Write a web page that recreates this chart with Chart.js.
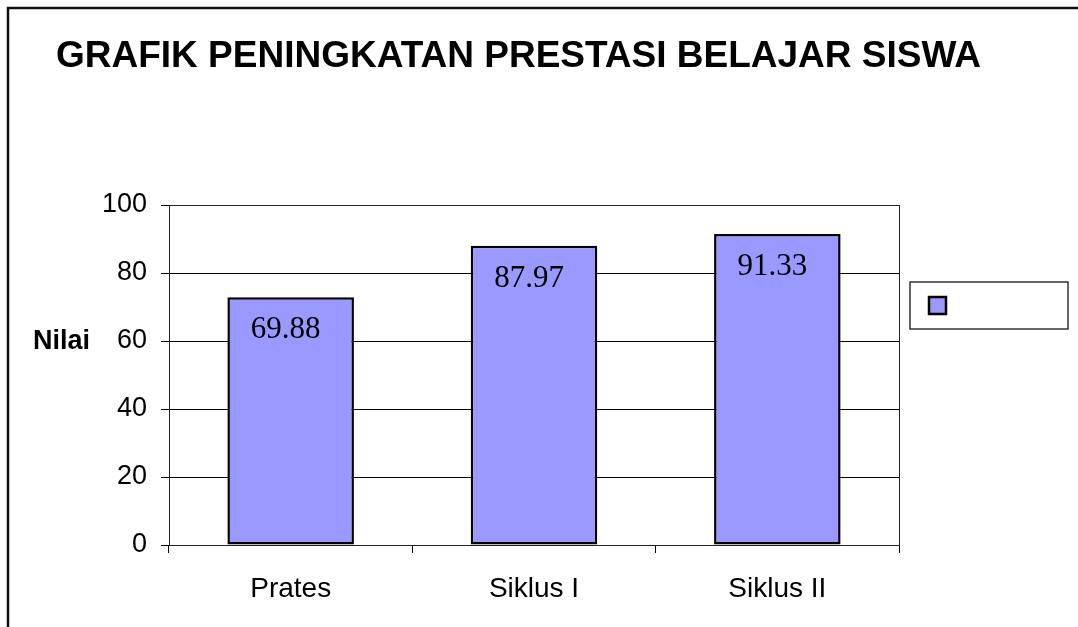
<!DOCTYPE html>
<html>
<head>
<meta charset="utf-8">
<script src="https://cdn.jsdelivr.net/npm/chart.js@4.4.1/dist/chart.umd.min.js"></script>
<style>
  html, body { margin: 0; padding: 0; background: #fff; }
  #wrap { position: relative; width: 1078px; height: 627px; }
</style>
</head>
<body>
<div id="wrap"><canvas id="chart" width="1078" height="627"></canvas></div>
<script>
// Chart data
const categories = ['Prates', 'Siklus I', 'Siklus II'];
const nilai = [72.9, 88.0, 91.5];
const valueLabels = ['69.88', '87.97', '91.33'];
const yTicks = [0, 20, 40, 60, 80, 100];

const chartTitle = 'GRAFIK PENINGKATAN PRESTASI BELAJAR SISWA';
const yAxisTitle = 'Nilai';

// Extra drawing: outer frame, title, axis title, plot border, value labels, legend box
const decorPlugin = {
  id: 'decor',
  beforeDraw(chart) {
    const ctx = chart.ctx;
    ctx.save();
    ctx.fillStyle = '#fff';
    ctx.fillRect(0, 0, chart.width, chart.height);
    // outer frame (only top and left visible)
    ctx.strokeStyle = '#111';
    ctx.lineWidth = 2.5;
    ctx.beginPath();
    ctx.moveTo(8, chart.height);
    ctx.lineTo(8, 8);
    ctx.lineTo(chart.width, 8);
    ctx.stroke();
    ctx.restore();
  },
  afterDraw(chart) {
    const ctx = chart.ctx;
    const area = chart.chartArea;
    ctx.save();

    // title
    ctx.fillStyle = '#000';
    ctx.font = 'bold 37px "Liberation Sans", Arial, sans-serif';
    ctx.textAlign = 'left';
    ctx.textBaseline = 'middle';
    ctx.fillText(chartTitle, 56, 57);

    // y axis title
    ctx.font = 'bold 27px "Liberation Sans", Arial, sans-serif';
    ctx.fillText(yAxisTitle, 33, (area.top + area.bottom) / 2 - 33);

    // plot area border
    ctx.strokeStyle = '#222';
    ctx.lineWidth = 1;
    ctx.strokeRect(area.left + 0.5, area.top + 0.5, area.right - area.left, area.bottom - area.top);

    // value labels inside bars
    const meta = chart.getDatasetMeta(0);
    ctx.font = '31px "Liberation Serif", "Times New Roman", serif';
    ctx.textAlign = 'center';
    meta.data.forEach((bar, i) => {
      ctx.fillText(valueLabels[i], bar.x - 5, bar.y + 33);
    });

    // legend box
    const lx = area.right + 11;
    const ly = area.top + 77;
    ctx.strokeStyle = '#333';
    ctx.lineWidth = 1.5;
    ctx.strokeRect(lx, ly, 158, 47);
    ctx.fillStyle = chart.data.datasets[0].backgroundColor;
    ctx.fillRect(lx + 19, ly + 15, 17, 17);
    ctx.strokeStyle = '#000';
    ctx.lineWidth = 2.5;
    ctx.strokeRect(lx + 19, ly + 15, 17, 17);

    ctx.restore();
  }
};

new Chart(document.getElementById('chart'), {
  type: 'bar',
  data: {
    labels: categories,
    datasets: [{
      label: '',
      data: nilai,
      backgroundColor: '#9999FF',
      borderColor: '#000',
      borderWidth: 2.5,
      borderSkipped: false,
      barPercentage: 0.52,
      categoryPercentage: 1
    }]
  },
  options: {
    responsive: false,
    animation: false,
    layout: {
      padding: { top: 205, left: 0, right: 179, bottom: 0 }
    },
    plugins: {
      legend: { display: false },
      title: { display: false },
      tooltip: { enabled: false }
    },
    scales: {
      x: {
        offset: true,
        grid: {
          drawOnChartArea: false,
          drawTicks: true,
          tickLength: 8,
          color: '#000',
          offset: true
        },
        border: { display: true, color: '#000', width: 1 },
        ticks: {
          color: '#000',
          padding: 19,
          font: { family: '"Liberation Sans", Arial, sans-serif', size: 28 }
        },
        afterFit(scale) { scale.height = 82; }
      },
      y: {
        min: 0,
        max: 100,
        afterBuildTicks(scale) {
          scale.ticks = yTicks.map(v => ({ value: v }));
        },
        grid: {
          color: '#000',
          lineWidth: 1,
          tickLength: 8
        },
        border: { display: true, color: '#000', width: 1 },
        ticks: {
          color: '#000',
          padding: 14,
          font: { family: '"Liberation Sans", Arial, sans-serif', size: 27 }
        },
        afterFit(scale) { scale.width = 169; }
      }
    }
  },
  plugins: [decorPlugin]
});
</script>
</body>
</html>
